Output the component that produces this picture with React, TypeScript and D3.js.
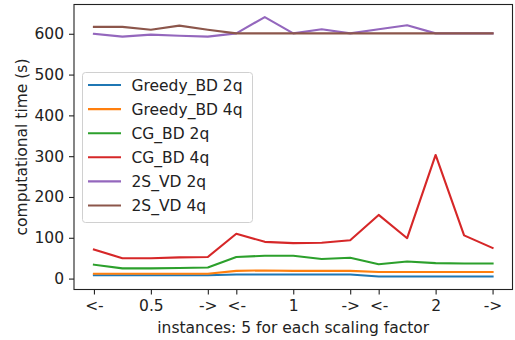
import { useRef, useEffect } from "react";
import * as d3 from "d3";

// x positions: 15 instances, 5 per scaling factor
const instances = d3.range(15);
const tickIdx = [0, 2, 4, 5, 7, 9, 10, 12, 14];
const tickLabels = ["<-", "0.5", "->", "<-", "1", "->", "<-", "2", "->"];
const yTicks = [0, 100, 200, 300, 400, 500, 600];

const greedy2q = [8, 8, 8, 8, 8, 10, 10, 10, 10, 10, 5, 5, 5, 5, 5];
const greedy4q = [12, 12, 12, 12, 12, 19, 20, 19, 19, 19, 16, 16, 16, 16, 16];
const cg2q = [34, 25, 25, 26, 27, 53, 56, 56, 48, 51, 35, 42, 38, 37, 37];
const cg4q = [71, 50, 50, 52, 53, 110, 90, 87, 88, 94, 156, 99, 303, 106, 75];
const sv2q = [600, 593, 598, 595, 593, 601, 641, 601, 611, 601, 611, 621, 601, 601, 601];
const sv4q = [617, 617, 610, 620, 610, 601, 601, 601, 601, 601, 601, 601, 601, 601, 601];

const seriesNames = ["Greedy_BD 2q", "Greedy_BD 4q", "CG_BD 2q", "CG_BD 4q", "2S_VD 2q", "2S_VD 4q"];
const seriesValues = [greedy2q, greedy4q, cg2q, cg4q, sv2q, sv4q];
const colors = ["#1f77b4", "#ff7f0e", "#2ca02c", "#d62728", "#9467bd", "#8c564b"];

const FONT = "DejaVu Sans";
const FS = 15.5;

const App = () => {
  const ref = useRef<HTMLDivElement>(null);

  useEffect(() => {
    const W = 515;
    const H = 340;
    const m = { left: 74, right: 2.5, top: 4.5, bottom: 50.5 };
    const iw = W - m.left - m.right;
    const ih = H - m.top - m.bottom;

    const root = d3
      .select(ref.current)
      .html("")
      .append("svg")
      .attr("width", W)
      .attr("height", H)
      .style("display", "block")
      .style("font-family", FONT);

    const svg = root.append("g").attr("transform", `translate(${m.left},${m.top})`);

    const x = d3.scaleLinear().domain([-0.7, 14.7]).range([0, iw]);
    const y = d3.scaleLinear().domain([-26.75, 671.75]).range([ih, 0]);

    const line = d3
      .line<number>()
      .x((_, i) => x(instances[i]))
      .y((d) => y(d));

    seriesValues.forEach((vals, k) => {
      svg
        .append("path")
        .datum(vals)
        .attr("d", line)
        .attr("fill", "none")
        .attr("stroke", colors[k])
        .attr("stroke-width", 2.1)
        .attr("stroke-linejoin", "round")
        .attr("stroke-linecap", "square");
    });

    // x axis
    const xAxis = svg
      .append("g")
      .attr("transform", `translate(0,${ih})`)
      .call(
        d3
          .axisBottom(x)
          .tickValues(tickIdx)
          .tickFormat((_, i) => tickLabels[i])
          .tickSize(5)
          .tickPadding(5)
      );
    // y axis
    const yAxis = svg.append("g").call(d3.axisLeft(y).tickValues(yTicks).tickSize(5).tickPadding(5));

    [xAxis, yAxis].forEach((a) => {
      a.select(".domain").remove();
      a.selectAll("line").attr("stroke", "#222").attr("stroke-width", 1.1);
      a.selectAll("text").attr("font-family", FONT).attr("font-size", FS).attr("fill", "#222");
    });

    // frame
    svg
      .append("rect")
      .attr("x", 0)
      .attr("y", 0)
      .attr("width", iw)
      .attr("height", ih)
      .attr("fill", "none")
      .attr("stroke", "#222")
      .attr("stroke-width", 1.1);

    // axis labels
    root
      .append("text")
      .attr("x", m.left + iw / 2)
      .attr("y", 333)
      .attr("text-anchor", "middle")
      .attr("font-size", FS)
      .attr("fill", "#222")
      .text("instances: 5 for each scaling factor");

    root
      .append("text")
      .attr("transform", `translate(27,${m.top + ih / 2}) rotate(-90)`)
      .attr("text-anchor", "middle")
      .attr("font-size", FS)
      .attr("fill", "#222")
      .text("computational time (s)");

    // legend
    const lg = root.append("g").attr("transform", "translate(82.5,72.5)");
    lg.append("rect")
      .attr("width", 170)
      .attr("height", 150)
      .attr("rx", 3)
      .attr("fill", "white")
      .attr("fill-opacity", 0.8)
      .attr("stroke", "#d0d0d0")
      .attr("stroke-width", 1);

    seriesNames.forEach((name, k) => {
      const cy = 12.5 + k * 24.1;
      lg.append("line")
        .attr("x1", 5.5)
        .attr("x2", 38.5)
        .attr("y1", cy)
        .attr("y2", cy)
        .attr("stroke", colors[k])
        .attr("stroke-width", 2.1);
      lg.append("text")
        .attr("x", 49)
        .attr("y", cy)
        .attr("dy", "0.36em")
        .attr("font-size", FS)
        .attr("fill", "#222")
        .text(name);
    });
  }, []);

  return <div ref={ref} style={{ position: "absolute", left: 0, top: 0 }} />;
};

export default App;
